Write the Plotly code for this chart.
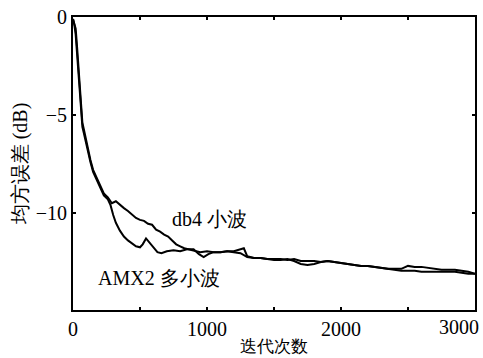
import plotly.graph_objects as go

# ---- data ----
db4_x = [0, 10, 20, 30, 40, 50, 60, 70, 80, 95, 110, 130, 150, 175, 200, 230, 260, 290, 320, 350,
         380, 410, 440, 470, 500, 530, 560, 590, 620, 650, 680, 710, 740, 770, 800, 830, 860, 900,
         950, 1000, 1050, 1100, 1150, 1200, 1250, 1300, 1350, 1400, 1450, 1500, 1550, 1600, 1650,
         1700, 1750, 1800, 1850, 1900, 1950, 2000, 2050, 2100, 2150, 2200, 2250, 2300, 2350, 2400,
         2450, 2500, 2550, 2600, 2650, 2700, 2750, 2800, 2850, 2900, 2950, 3000]
db4_y = [-0.1, -0.3, -0.6, -1.5, -2.6, -3.8, -4.6, -5.4, -5.7, -6.2, -6.7, -7.3, -7.8, -8.2, -8.6,
         -9.0, -9.2, -9.5, -9.4, -9.6, -9.75, -9.9, -10.1, -10.25, -10.35, -10.4, -10.55, -10.6,
         -10.85, -10.95, -11.1, -11.2, -11.4, -11.6, -11.7, -11.8, -11.85, -11.9, -12.0, -11.95,
         -12.0, -12.0, -11.95, -12.0, -12.05, -12.25, -12.3, -12.3, -12.35, -12.35, -12.35, -12.4,
         -12.35, -12.45, -12.45, -12.45, -12.5, -12.45, -12.5, -12.55, -12.6, -12.65, -12.7, -12.7,
         -12.75, -12.8, -12.85, -12.85, -12.85, -12.7, -12.75, -12.75, -12.8, -12.85, -12.9, -12.9,
         -12.9, -12.95, -13.0, -13.1]

amx_x = [0, 10, 20, 30, 40, 50, 60, 70, 80, 95, 110, 130, 150, 175, 200, 230, 260, 280, 300, 320,
         350, 380, 410, 440, 470, 500, 520, 545, 570, 600, 630, 660, 700, 750, 800, 850, 900, 940,
         975, 1010, 1050, 1100, 1150, 1200, 1250, 1275, 1300, 1350, 1400, 1450, 1500, 1550, 1600,
         1650, 1700, 1750, 1800, 1850, 1900, 1950, 2000, 2050, 2100, 2150, 2200, 2250, 2300, 2350,
         2400, 2450, 2500, 2550, 2600, 2650, 2700, 2750, 2800, 2850, 2900, 2950, 3000]
amx_y = [-0.1, -0.4, -0.9, -1.8, -2.9, -4.0, -4.9, -5.6, -5.9, -6.4, -6.9, -7.4, -7.9, -8.3, -8.7,
         -9.1, -9.3, -9.6, -10.1, -10.5, -10.9, -11.2, -11.4, -11.55, -11.7, -11.75, -11.6, -11.3,
         -11.5, -11.75, -12.0, -12.05, -11.95, -11.9, -11.95, -11.85, -11.85, -12.1, -12.25, -12.1,
         -12.0, -12.0, -11.95, -11.95, -11.85, -11.8, -12.2, -12.3, -12.3, -12.35, -12.4, -12.4,
         -12.35, -12.45, -12.6, -12.65, -12.6, -12.5, -12.45, -12.5, -12.55, -12.6, -12.65, -12.7,
         -12.7, -12.75, -12.8, -12.85, -12.9, -12.95, -12.95, -12.95, -13.0, -13.0, -13.0, -13.0,
         -13.0, -13.0, -13.05, -13.1, -13.1]

x_ticks = [0, 1000, 2000]
x_tick_text = ["0", "1000", "2000"]
x_last_tick = 3000
y_ticks = [0, -5, -10]
y_tick_text = ["0", "−5", "−10"]

x_title = "迭代次数"
y_title = "均方误差 (dB)"
label_db4 = "db4 小波"
label_amx = "AMX2 多小波"

FONT = "Liberation Serif"

fig = go.Figure()
fig.add_trace(go.Scatter(x=db4_x, y=db4_y, mode="lines",
                         line=dict(color="black", width=2), name=label_db4))
fig.add_trace(go.Scatter(x=amx_x, y=amx_y, mode="lines",
                         line=dict(color="black", width=2), name=label_amx))

axis_common = dict(showline=True, linecolor="black", linewidth=2, mirror="ticks",
                   ticks="inside", ticklen=3, tickcolor="black", tickwidth=1.5,
                   showgrid=False, zeroline=False, automargin=False,
                   tickfont=dict(family=FONT, size=20, color="black"))

fig.update_xaxes(range=[0, 3000], tickvals=x_ticks, ticktext=x_tick_text,
                 minor=dict(dtick=500, ticks="inside", ticklen=3, tickcolor="black"),
                 title=dict(text=x_title, font=dict(family=FONT, size=17, color="black"), standoff=1),
                 **axis_common)
fig.update_yaxes(range=[-14.95, 0], tickvals=y_ticks, ticktext=y_tick_text,
                 title=dict(text=y_title, font=dict(family=FONT, size=20, color="black"), standoff=3),
                 **axis_common)

fig.add_annotation(x=x_last_tick, y=0, xref="x", yref="paper", text=str(x_last_tick),
                   xanchor="right", yanchor="top", xshift=6, yshift=-4, showarrow=False,
                   font=dict(family=FONT, size=20, color="black"))
fig.add_annotation(x=1022, y=-10.3, text=label_db4, showarrow=False,
                   font=dict(family=FONT, size=20, color="black"))
fig.add_annotation(x=645, y=-13.33, text=label_amx, showarrow=False,
                   font=dict(family=FONT, size=20, color="black"))

fig.update_layout(width=483, height=358, margin=dict(l=73, r=8, t=17, b=48),
                  paper_bgcolor="white", plot_bgcolor="white", showlegend=False)

fig.write_html("out.html", config={"displayModeBar": False},
               post_script="document.body.style.margin='0';document.body.style.overflow='hidden';")
